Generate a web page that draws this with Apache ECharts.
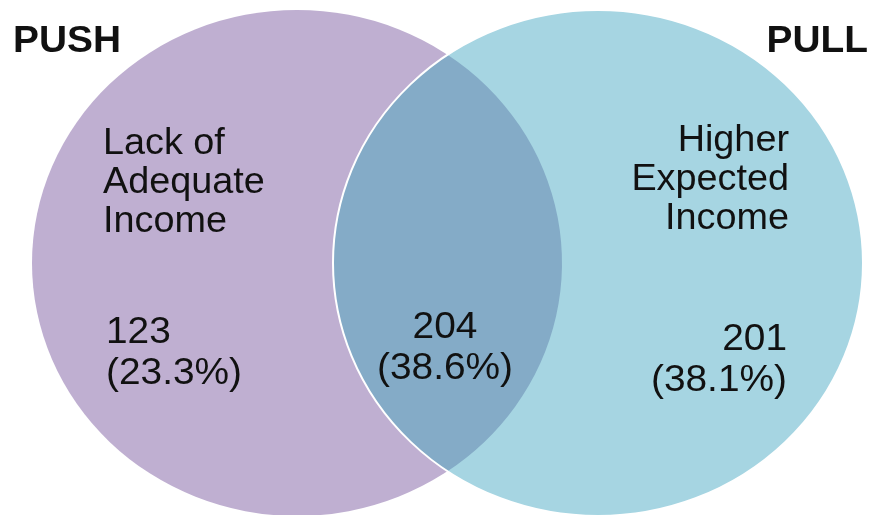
<!DOCTYPE html>
<html><head><meta charset="utf-8">
<script src="https://cdn.jsdelivr.net/npm/echarts@6/dist/echarts.min.js"></script>
<style>html,body{margin:0;padding:0;background:#fff}#c{width:875px;height:515px}</style>
</head><body><div id="c"></div>
<script>
// ---- data ----
const setNames = ['PUSH', 'PULL'];
const setFactors = ['Lack of\nAdequate\nIncome', 'Higher\nExpected\nIncome'];
const regions = ['PUSH only', 'PUSH and PULL', 'PULL only'];
const counts = [123, 204, 201];
const shares = [23.3, 38.6, 38.1];

// ---- styles & layout ----
const regionColors = ['#bfafd1', '#84abc7', '#a6d5e2'];
const FONT = '"Liberation Sans", Arial, sans-serif';
const SX = 1.05;
const ellL = {cx: 297, cy: 263, rx: 265, ry: 253};
const ellR = {cx: 598, cy: 263, rx: 265, ry: 253};
const headPos = [{x: 13, y: 42, align: 'left'}, {x: 868, y: 42, align: 'right'}];
const factorPos = [{x: 103, y: 183, align: 'left'}, {x: 789, y: 180, align: 'right'}];
const numPos = [{x: 106, y: 353, align: 'left'}, {x: 445, y: 348, align: 'center'}, {x: 787, y: 360, align: 'right'}];

function ellipsePath(api, e) {
  const p = api.coord([e.cx, e.cy]);
  const s = api.size([e.rx, e.ry]);
  return `M ${p[0] - s[0]} ${p[1]} A ${s[0]} ${s[1]} 0 1 0 ${p[0] + s[0]} ${p[1]} A ${s[0]} ${s[1]} 0 1 0 ${p[0] - s[0]} ${p[1]} Z`;
}
function lensPath(api) {
  const xi = (ellL.cx + ellR.cx) / 2;
  const t = (xi - ellL.cx) / ellL.rx;
  const dy = ellL.ry * Math.sqrt(1 - t * t);
  const top = api.coord([xi, ellL.cy - dy]);
  const bot = api.coord([xi, ellL.cy + dy]);
  const sL = api.size([ellL.rx, ellL.ry]);
  const sR = api.size([ellR.rx, ellR.ry]);
  return `M ${top[0]} ${top[1]} A ${sL[0]} ${sL[1]} 0 0 1 ${bot[0]} ${bot[1]} A ${sR[0]} ${sR[1]} 0 0 1 ${top[0]} ${top[1]} Z`;
}
function txt(pos, text, size, weight, lh, z2) {
  return {
    type: 'text', x: pos.x, y: pos.y, scaleX: SX, originX: 0, originY: 0, z2: z2 || 20,
    style: {text: text, font: weight + ' ' + size + 'px ' + FONT, fill: '#111',
      textAlign: pos.align, textVerticalAlign: 'middle', lineHeight: lh}
  };
}

const chart = echarts.init(document.getElementById('c'), null, {renderer: 'canvas'});
chart.setOption({
  animation: false,
  backgroundColor: '#fff',
  grid: {left: 0, right: 0, top: 0, bottom: 0},
  xAxis: {type: 'value', min: 0, max: 875, show: false},
  yAxis: {type: 'value', min: 0, max: 515, inverse: true, show: false},
  series: [{
    type: 'custom',
    coordinateSystem: 'cartesian2d',
    data: regions.map((r, i) => ({name: r, value: [counts[i], shares[i]]})),
    renderItem: function (params, api) {
      const i = params.dataIndex;
      const children = [];
      if (i === 0) {
        children.push({type: 'path', z2: 1, shape: {pathData: ellipsePath(api, ellL)}, style: {fill: regionColors[0]}});
        children.push(txt(headPos[0], setNames[0], 37, 'bold', 40));
        children.push(txt(factorPos[0], setFactors[0], 36, 'normal', 39));
      } else if (i === 2) {
        children.push({type: 'path', z2: 2, shape: {pathData: ellipsePath(api, ellR)}, style: {fill: regionColors[2]}});
        children.push({type: 'path', z2: 4, shape: {pathData: ellipsePath(api, ellR)}, style: {fill: null, stroke: '#fff', lineWidth: 2}});
        children.push(txt(headPos[1], setNames[1], 37, 'bold', 40));
        children.push(txt(factorPos[1], setFactors[1], 36, 'normal', 39));
      } else {
        children.push({type: 'path', z2: 3, shape: {pathData: lensPath(api)}, style: {fill: regionColors[1]}});
      }
      children.push(txt(numPos[i], counts[i] + '\n(' + shares[i].toFixed(1) + '%)', 37, 'normal', 41));
      return {type: 'group', children: children};
    }
  }]
});
</script>
</body></html>
